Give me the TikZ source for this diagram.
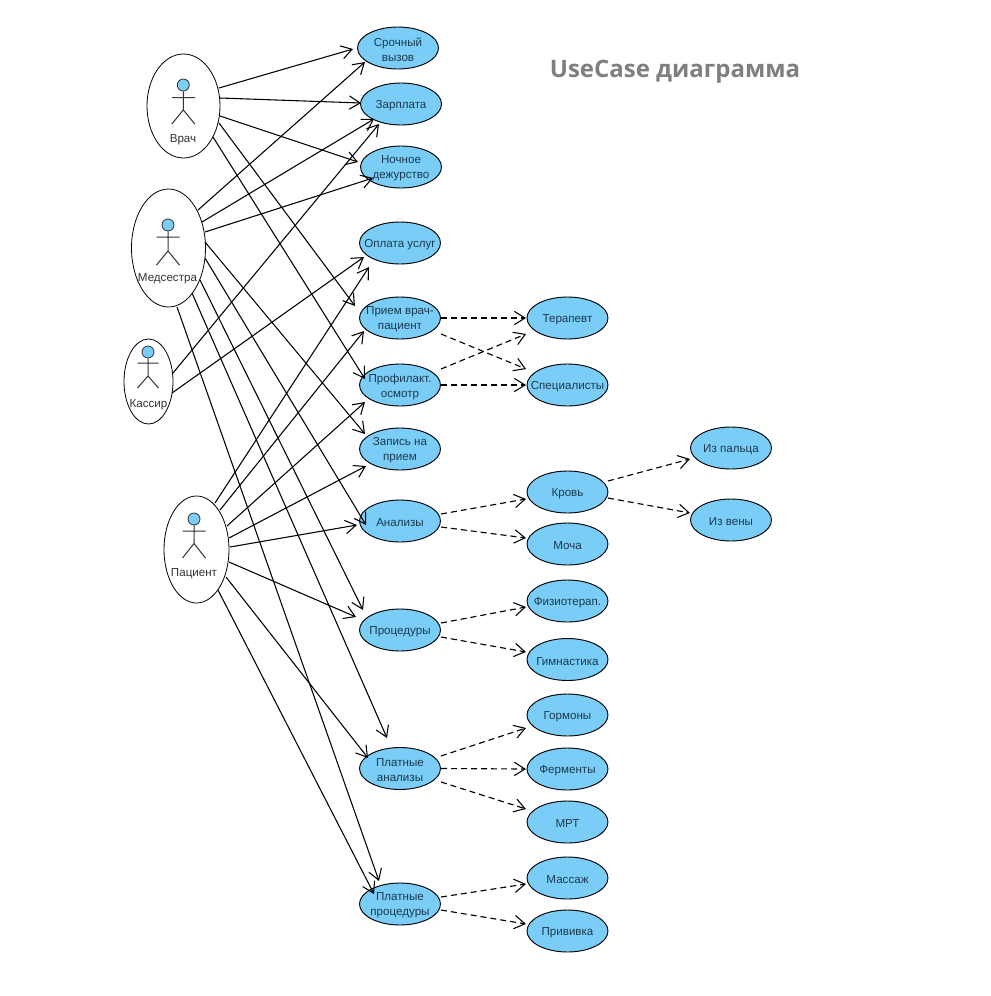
\documentclass[tikz,border=0pt]{standalone}
\usepackage{fontspec}
\setmainfont{Liberation Sans}
\newfontfamily\titlefont{Open Sans}
\usetikzlibrary{shapes.geometric,arrows.meta,calc}
\definecolor{ucblue}{HTML}{7ACDF6}
\definecolor{uctext}{HTML}{1C3A50}
\definecolor{actext}{HTML}{333333}
\definecolor{titlegray}{HTML}{7F7F7F}
\tikzset{
  ucbox/.style={ellipse,draw=black,fill=ucblue,line width=0.7pt,minimum width=60.75pt,minimum height=31.5pt,inner sep=0pt},
  uclabel/.style={font=\fontsize{8.7}{11.25}\selectfont,text=uctext,align=center,inner sep=0pt,yshift=-1.2pt},
  actorbox/.style={ellipse,draw=black,fill=white,line width=0.6pt,inner sep=0pt},
  actorlabel/.style={font=\fontsize{8.7}{11.25}\selectfont,text=actext,align=center,inner sep=0pt,yshift=-1pt},
  limb/.style={draw=black!80,line width=0.75pt},
  headshape/.style={circle,draw=black!80,fill=ucblue,line width=0.6pt,minimum size=9pt,inner sep=0pt},
  assoc/.style={draw=black,line width=0.8pt,-{Straight Barb[length=8pt,width=10pt,line width=0.8pt]}},
  dep/.style={draw=black,line width=0.85pt,dash pattern=on 4.5pt off 3pt,-{Straight Barb[length=8pt,width=10pt,line width=0.8pt]}},
}
% \conn{style}{source}{dx,dy}{target}{dx,dy}
\newcommand{\conn}[5]{\draw[#1] ($(#2)+(#3)$) -- ($(#4)+(#5)$);}
% \usecasenode{name}{x,y}{text}
\newcommand{\usecasenode}[3]{\node[ucbox,label={[uclabel]center:#3}] (#1) at (#2) {};}
% \stick{name}{head dy}{arm dy}{hip dy}{foot dy}{half width}
\newcommand{\stick}[6]{%
  \node[headshape] (#1h) at ($(#1)$) {};
  \draw[limb] (#1h.south) -- ($(#1h)+(0,#4)$)
    ($(#1h)+(-#6,#3)$) -- ($(#1h)+(#6,#3)$)
    ($(#1h)+(-#6,#5)$) -- ($(#1h)+(0,#4)$) -- ($(#1h)+(#6,#5)$);}
\begin{document}
\begin{tikzpicture}[x=0.75pt,y=-0.75pt]
\useasboundingbox[fill=white] (0,0) rectangle (990,996);
\node[font=\titlefont\bfseries\fontsize{18}{22}\selectfont,text=titlegray,inner sep=0pt] (title) at (675,71.5) {UseCase диаграмма};

% actors
\node[actorbox,minimum width=54.75pt,minimum height=78pt] (vrach) at (183.5,106) {};
\node[actorbox,minimum width=55.5pt,minimum height=88.5pt] (medsestra) at (168.5,248) {};
\node[actorbox,minimum width=36.75pt,minimum height=63.75pt] (kassir) at (148.5,381.5) {};
\node[actorbox,minimum width=48.75pt,minimum height=80.25pt] (patsient) at (196.5,549.5) {};

\coordinate (a1) at (183.3,85);
\coordinate (a2) at (168,225);
\coordinate (a3) at (148,352);
\coordinate (a4) at (194,519);
\stick{a1}{0}{12.5}{25}{39}{11.5}
\stick{a2}{0}{12}{26}{40}{11.5}
\stick{a3}{0}{11}{24}{36}{10.5}
\stick{a4}{0}{12}{24.5}{39}{11.5}
\node[actorlabel] (l1) at (183,138) {Врач};
\node[actorlabel] (l2) at (167.5,277) {Медсестра};
\node[actorlabel] (l3) at (148.5,403) {Кассир};
\node[actorlabel] (l4) at (194,572) {Пациент};

% use cases, left column
\usecasenode{srochny}{398,48}{Срочный\\вызов}
\usecasenode{zarplata}{401,104}{Зарплата}
\usecasenode{nochnoe}{401,167}{Ночное\\дежурство}
\usecasenode{oplata}{400,243}{Оплата услуг}
\usecasenode{priem}{400,318}{Прием врач-\\пациент}
\usecasenode{profil}{400,385}{Профилакт.\\осмотр}
\usecasenode{zapis}{400,449}{Запись на\\прием}
\usecasenode{analizy}{400,521}{Анализы}
\usecasenode{proced}{400,630}{Процедуры}
\usecasenode{plan}{400,768.5}{Платные\\анализы}
\usecasenode{plpr}{400,904}{Платные\\процедуры}
% right column
\usecasenode{terapevt}{567.5,318}{Терапевт}
\usecasenode{spets}{567.5,385}{Специалисты}
\usecasenode{krov}{567.5,492}{Кровь}
\usecasenode{mocha}{567.5,544}{Моча}
\usecasenode{fizio}{567.5,601}{Физиотерап.}
\usecasenode{gimn}{567.5,659.5}{Гимнастика}
\usecasenode{gorm}{567.5,715}{Гормоны}
\usecasenode{ferm}{567.5,769}{Ферменты}
\usecasenode{mrt}{567.5,822}{МРТ}
\usecasenode{massazh}{567.5,878}{Массаж}
\usecasenode{privivka}{567.5,931}{Прививка}
\usecasenode{izp}{731,448}{Из пальца}
\usecasenode{izv}{731,520}{Из вены}

% associations
\conn{assoc}{vrach}{35.5,-18}{srochny}{-45,1}
\conn{assoc}{vrach}{36.5,-8}{zarplata}{-40,-1}
\conn{assoc}{vrach}{36.5,10}{nochnoe}{-43,-5}
\conn{assoc}{vrach}{35.5,17}{priem}{-45,-12}
\conn{assoc}{vrach}{29.5,31}{profil}{-35,-6}
\conn{assoc}{medsestra}{29.5,-38}{srochny}{-33,14}
\conn{assoc}{medsestra}{33.5,-26}{zarplata}{-27,15}
\conn{assoc}{medsestra}{36.5,-16}{nochnoe}{-28,11}
\conn{assoc}{medsestra}{36.5,-6}{zapis}{-35,-15}
\conn{assoc}{medsestra}{36.5,10}{analizy}{-34,4}
\conn{assoc}{medsestra}{31.5,32}{proced}{-37,-20}
\conn{assoc}{medsestra}{23.5,45}{plan}{-13,-30.5}
\conn{assoc}{medsestra}{8.5,59}{plpr}{-21,-23}
\conn{assoc}{kassir}{24.5,-8.5}{zarplata}{-22,20}
\conn{assoc}{kassir}{23.5,11.5}{oplata}{-36,14}
\conn{assoc}{patsient}{18.5,-46.5}{oplata}{-31,24}
\conn{assoc}{patsient}{23.5,-39.5}{priem}{-36,13}
\conn{assoc}{patsient}{30.5,-23.5}{profil}{-35,17}
\conn{assoc}{patsient}{32.5,-11.5}{zapis}{-34,17}
\conn{assoc}{patsient}{33.5,-2.5}{analizy}{-43,4}
\conn{assoc}{patsient}{32.5,12.5}{proced}{-44,-13}
\conn{assoc}{patsient}{29.5,27.5}{plan}{-32,-10.5}
\conn{assoc}{patsient}{21.5,40.5}{plpr}{-26,-10}

% dependencies
\conn{dep}{priem}{41,0}{terapevt}{-41.5,0}
\conn{dep}{priem}{41,16}{spets}{-41.5,-16}
\conn{dep}{profil}{41,-16}{terapevt}{-41.5,16}
\conn{dep}{profil}{41,0}{spets}{-41.5,0}
\conn{dep}{analizy}{41,-7}{krov}{-41.5,7}
\conn{dep}{analizy}{41,6}{mocha}{-41.5,-6}
\conn{dep}{krov}{40.5,-11}{izp}{-41,11}
\conn{dep}{krov}{40.5,6}{izv}{-41,-7}
\conn{dep}{proced}{41,-7}{fizio}{-41.5,6}
\conn{dep}{proced}{41,7}{gimn}{-41.5,-7.5}
\conn{dep}{plan}{41,-12.5}{gorm}{-41.5,13}
\conn{dep}{plan}{41,0}{ferm}{-41.5,0}
\conn{dep}{plan}{41,13.5}{mrt}{-41.5,-13}
\conn{dep}{plpr}{41,-7}{massazh}{-41.5,6}
\conn{dep}{plpr}{41,6}{privivka}{-41.5,-7}
\end{tikzpicture}
\end{document}
